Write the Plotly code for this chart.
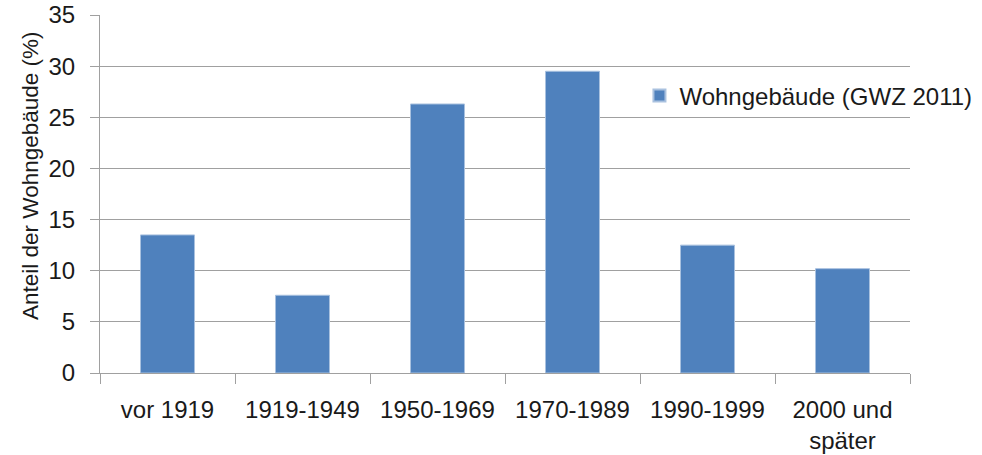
import plotly.graph_objects as go

categories = ["vor 1919", "1919-1949", "1950-1969", "1970-1989", "1990-1999", "2000 und<br>später"]
values = [13.5, 7.6, 26.3, 29.5, 12.5, 10.2]
series_name = "Wohngebäude (GWZ 2011)"
y_title = "Anteil der Wohngebäude (%)"
y_ticks = [0, 5, 10, 15, 20, 25, 30, 35]

FONT = "Liberation Sans, Arial, sans-serif"
GRID = "#a0a0a0"
TXT = "#1a1a1a"

fig = go.Figure()
fig.add_trace(go.Bar(
    x=categories, y=values, name=series_name,
    marker=dict(color="#4F81BD", line=dict(color="#a9c1df", width=1)),
    showlegend=True,
))

fig.update_layout(
    width=982, height=455,
    margin=dict(l=100, r=72, t=15, b=82, autoexpand=False),
    paper_bgcolor="white", plot_bgcolor="white",
    bargap=0.6,
    font=dict(family=FONT, size=24, color=TXT),
    showlegend=True,
    legend=dict(
        x=0.666, y=0.774, xref="paper", yref="paper",
        xanchor="left", yanchor="middle",
        bgcolor="rgba(0,0,0,0)",
        font=dict(family=FONT, size=24, color=TXT),
        itemsizing="constant",
    ),
    annotations=[dict(
        text=y_title, textangle=-90, showarrow=False,
        xref="paper", yref="paper",
        x=-70 / 810, y=(373 - 176) / 358,
        xanchor="center", yanchor="middle",
        font=dict(family=FONT, size=22.5, color=TXT),
    )],
)

fig.update_xaxes(
    type="category", automargin=False,
    showline=True, linecolor=GRID, linewidth=1,
    ticks="outside", ticklen=10, tickcolor=GRID, tickwidth=1,
    tickson="boundaries",
    showgrid=False,
    ticklabelstandoff=15,
    tickfont=dict(family=FONT, size=24, color=TXT),
)

fig.update_yaxes(
    range=[0, 35], tickvals=y_ticks, automargin=False,
    showline=True, linecolor=GRID, linewidth=1,
    ticks="outside", ticklen=9, tickcolor=GRID, tickwidth=1,
    showgrid=True, gridcolor=GRID, gridwidth=1,
    zeroline=False,
    ticklabelstandoff=10,
    tickfont=dict(family=FONT, size=24, color=TXT),
)

fig.write_html("out.html", config={"displayModeBar": False},
               post_script="document.body.style.margin='0px';")
